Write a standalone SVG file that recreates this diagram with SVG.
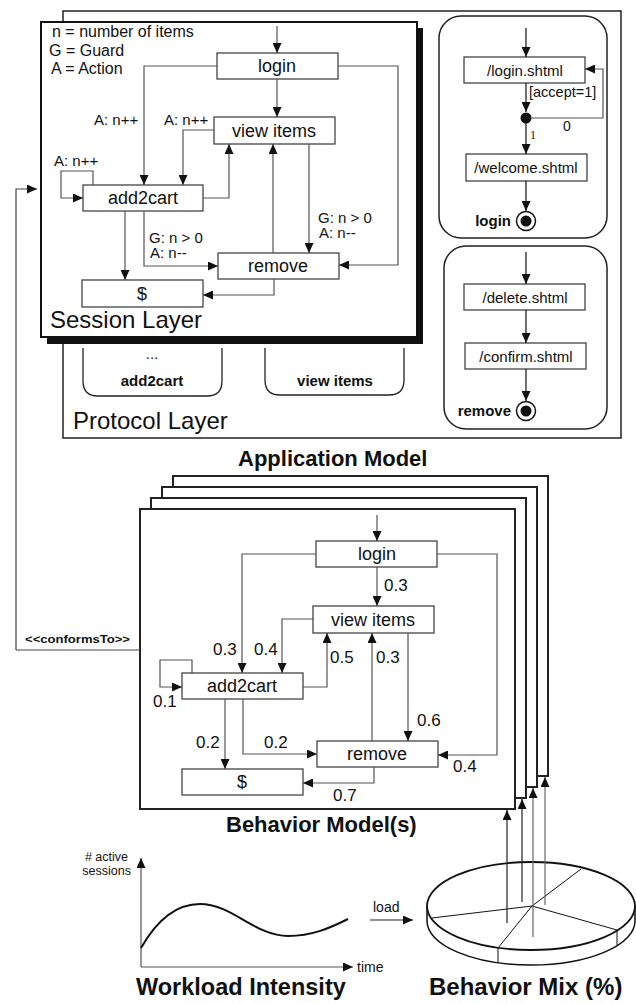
<svg xmlns="http://www.w3.org/2000/svg" width="636" height="1003" viewBox="0 0 636 1003">
<style>
text{font-family:"Liberation Sans",Arial,sans-serif;fill:#111}
.box{fill:#fff;stroke:#444;stroke-width:1.3}
.nt{font-size:18px;text-anchor:middle}
.pt{font-size:15px;text-anchor:middle}
.lbl{font-size:15px}
.lg{font-size:16px}
.num{font-size:17px}
.b{font-weight:bold}
.c{fill:none;stroke:#555;stroke-width:1.2}
.ca{fill:none;stroke:#555;stroke-width:1.2;marker-end:url(#ah)}
.k{fill:none;stroke:#222;stroke-width:1.3}
.pane{fill:#fff;stroke:#222;stroke-width:1.5}
.stack{fill:#fff;stroke:#222;stroke-width:2}
</style>
<defs>
<marker id="ah" viewBox="0 0 10 9" refX="10" refY="4.5" markerWidth="10" markerHeight="9" markerUnits="userSpaceOnUse" orient="auto"><path d="M0,0L10,4.5L0,9z" fill="#111"/></marker>
</defs>
<rect width="636" height="1003" fill="#fff"/>

<!-- Protocol layer -->
<g id="protocol-layer">
<rect x="63" y="11" width="558" height="427" fill="#fff" stroke="#222" stroke-width="1.5"/>
<text x="73" y="429" style="font-size:24px">Protocol Layer</text>
</g>
<g id="pane-add2cart">
<path class="k" d="M83,348V381Q83,396 98,396H207Q222,396 222,381V348"/>
<text x="152" y="359" class="pt">...</text>
<text x="152" y="386" class="pt b">add2cart</text>
</g>
<g id="pane-viewitems">
<path class="k" d="M265,348V380Q265,395 280,395H389Q404,395 404,380V348"/>
<text x="335" y="386" class="pt b">view items</text>
</g>

<!-- login protocol pane -->
<g id="pane-login">
<rect class="pane" x="439" y="16" width="168" height="222" rx="22"/>
<rect class="box" x="464" y="57" width="121" height="26"/>
<text x="525" y="76" class="pt">/login.shtml</text>
<circle cx="526" cy="118" r="5.5" fill="#111"/>
<rect class="box" x="466" y="154" width="121" height="27"/>
<text x="526" y="173" class="pt">/welcome.shtml</text>
<text x="511" y="226" class="pt b" style="text-anchor:end">login</text>
<circle cx="526" cy="221" r="9.5" fill="#fff" stroke="#111" stroke-width="1.5"/>
<circle cx="526" cy="221" r="5.5" fill="#111"/>
<text x="529" y="97" style="font-size:14.5px">[accept=1]</text>
<text x="563" y="131" style="font-size:14px">0</text>
<text x="530" y="139" style="font-family:'Liberation Serif','Times New Roman',serif;font-size:12px">1</text>
</g>
<g id="pane-remove">
<rect class="pane" x="444" y="246" width="163" height="183" rx="22"/>
<rect class="box" x="464" y="284" width="121" height="26"/>
<text x="525" y="303" class="pt">/delete.shtml</text>
<rect class="box" x="465" y="343" width="121" height="26"/>
<text x="526" y="362" class="pt">/confirm.shtml</text>
<text x="511" y="416" class="pt b" style="text-anchor:end">remove</text>
<circle cx="526" cy="411" r="9.5" fill="#fff" stroke="#111" stroke-width="1.5"/>
<circle cx="526" cy="411" r="5.5" fill="#111"/>
</g>

<!-- Session layer -->
<g id="session-layer">
<rect x="47" y="28" width="376" height="316" fill="#111"/>
<rect x="41" y="22" width="376" height="315" fill="#fff" stroke="#111" stroke-width="2"/>
<text x="50" y="328" style="font-size:24px">Session Layer</text>
<text x="52" y="37" class="lg">n = number of items</text>
<text x="49" y="56" class="lg">G = Guard</text>
<text x="51" y="74" class="lg">A = Action</text>
</g>
<g id="s-login"><rect class="box" x="217" y="53" width="121" height="26"/><text x="277" y="72" class="nt">login</text></g>
<g id="s-viewitems"><rect class="box" x="214" y="117" width="121" height="27"/><text x="274" y="137" class="nt">view items</text></g>
<g id="s-add2cart"><rect class="box" x="83" y="185" width="120" height="26"/><text x="143" y="204" class="nt">add2cart</text></g>
<g id="s-remove"><rect class="box" x="218" y="253" width="121" height="26"/><text x="278" y="272" class="nt">remove</text></g>
<g id="s-pay"><rect class="box" x="82" y="280" width="121" height="27"/><text x="142" y="300" class="nt">$</text></g>

<!-- Behavior model stack -->
<g id="behavior-stack">
<rect class="stack" x="173" y="476" width="375" height="300"/>
<rect class="stack" x="162" y="487" width="375" height="300"/>
<rect class="stack" x="151" y="498" width="375" height="300"/>
<rect class="stack" x="140" y="509" width="375" height="300"/>
</g>
<g id="b-login"><rect class="box" x="316" y="541" width="121" height="26"/><text x="377" y="560" class="nt">login</text></g>
<g id="b-viewitems"><rect class="box" x="313" y="606" width="121" height="27"/><text x="373" y="626" class="nt">view items</text></g>
<g id="b-add2cart"><rect class="box" x="182" y="673" width="121" height="26"/><text x="242" y="692" class="nt">add2cart</text></g>
<g id="b-remove"><rect class="box" x="317" y="741" width="121" height="26"/><text x="377" y="760" class="nt">remove</text></g>
<g id="b-pay"><rect class="box" x="182" y="769" width="121" height="26"/><text x="242" y="788" class="nt">$</text></g>

<!-- Titles -->
<text x="238" y="466" class="b" style="font-size:22px">Application Model</text>
<text x="226" y="832" class="b" style="font-size:22px">Behavior Model(s)</text>
<text x="136" y="995" class="b" style="font-size:23.5px">Workload Intensity</text>
<text x="429" y="995" class="b" style="font-size:24px">Behavior Mix (%)</text>

<!-- Workload chart -->
<g id="workload">
<path d="M141,967V858" class="ca" style="stroke:#555"/>
<path d="M141,967H353" class="ca" style="stroke:#555"/>
<path d="M141,948C158,918 178,904 200,904C232,904 255,936 288,936C312,936 330,928 348,919" fill="none" stroke="#111" stroke-width="2"/>
<text x="128" y="861" style="font-size:12.5px;text-anchor:end">#  active</text>
<text x="131" y="875" style="font-size:12.5px;text-anchor:end">sessions</text>
<text x="357" y="972" style="font-size:14px">time</text>
</g>

<!-- Pie -->
<g id="behavior-mix">
<path d="M427,906V921A104,44 0 0 0 635,921V906" fill="#fff" stroke="#111" stroke-width="1.5"/>
<ellipse cx="531" cy="906" rx="104" ry="44" fill="#fff" stroke="#111" stroke-width="1.8"/>
<path d="M532,906L581,869M532,906L432,918M532,906L617,930M532,906L498,948M498,948V963M617,930V945" stroke="#111" stroke-width="1" fill="none"/>
</g>
<text x="373" y="912" style="font-size:14px">load</text>

<!-- Connectors -->
<g id="connectors">
<path class="ca" d="M277,26V53"/>
<path class="ca" d="M338,66H398V265H339"/>
<path class="ca" d="M217,66H144V185"/>
<path class="ca" d="M277,79V117"/>
<path class="ca" d="M214,130H183V185"/>
<path class="ca" d="M203,198H229V144"/>
<path class="ca" d="M93,185V171H61V198H83"/>
<path class="ca" d="M273,253V144"/>
<path class="ca" d="M309,144V253"/>
<path class="ca" d="M125,211V280"/>
<path class="ca" d="M144,211V266H218"/>
<path class="ca" d="M274,279V295H203"/>

<path class="ca" style="stroke:#111" d="M526,28V57"/>
<path class="ca" style="stroke:#111" d="M526,83V112"/>
<path class="ca" style="stroke:#555" d="M531,118H603V69H585"/>
<path class="ca" style="stroke:#111" d="M526,123V154"/>
<path class="ca" style="stroke:#111" d="M526,181V211"/>
<path class="ca" style="stroke:#111" d="M526,252V284"/>
<path class="ca" style="stroke:#111" d="M526,310V343"/>
<path class="ca" style="stroke:#111" d="M526,369V401"/>

<path class="ca" style="stroke:#444" d="M16,650V189H37"/>
<path class="c" style="stroke:#444" d="M16,650H140"/>

<path class="ca" d="M377,515V541"/>
<path class="ca" d="M377,567V606"/>
<path class="ca" d="M316,554H242V673"/>
<path class="ca" d="M437,554H497V755H438"/>
<path class="ca" d="M313,619H282V673"/>
<path class="ca" d="M303,687H327V633"/>
<path class="ca" d="M372,741V633"/>
<path class="ca" d="M408,633V741"/>
<path class="ca" d="M192,673V660H160V687H182"/>
<path class="ca" d="M225,699V769"/>
<path class="ca" d="M243,699V754H317"/>
<path class="ca" d="M374,767V783H303"/>

<path class="ca" style="stroke:#222" d="M370,920H413"/>
<path class="ca" style="stroke:#222" d="M507,923V810"/>
<path class="ca" style="stroke:#222" d="M522,902V799"/>
<path class="ca" style="stroke:#666" d="M533,937V788"/>
<path class="ca" style="stroke:#666" d="M545,905V777"/>
</g>

<!-- Labels -->
<g id="labels">
<text x="94" y="125" class="lbl">A: n++</text>
<text x="164" y="125" class="lbl">A: n++</text>
<text x="54" y="166" class="lbl">A: n++</text>
<text x="149" y="243" class="lbl">G: n &gt; 0</text>
<text x="150" y="258" class="lbl">A: n--</text>
<text x="318" y="223" class="lbl">G: n &gt; 0</text>
<text x="319" y="238" class="lbl">A: n--</text>
<text x="25" y="643" class="b" style="font-size:11px" textLength="105" lengthAdjust="spacingAndGlyphs">&lt;&lt;conformsTo&gt;&gt;</text>
<text x="384" y="591" class="num">0.3</text>
<text x="213" y="655" class="num">0.3</text>
<text x="254" y="655" class="num">0.4</text>
<text x="330" y="663" class="num">0.5</text>
<text x="376" y="663" class="num">0.3</text>
<text x="417" y="726" class="num">0.6</text>
<text x="153" y="707" class="num">0.1</text>
<text x="196" y="748" class="num">0.2</text>
<text x="264" y="748" class="num">0.2</text>
<text x="453" y="772" class="num">0.4</text>
<text x="333" y="801" class="num">0.7</text>
</g>
</svg>
